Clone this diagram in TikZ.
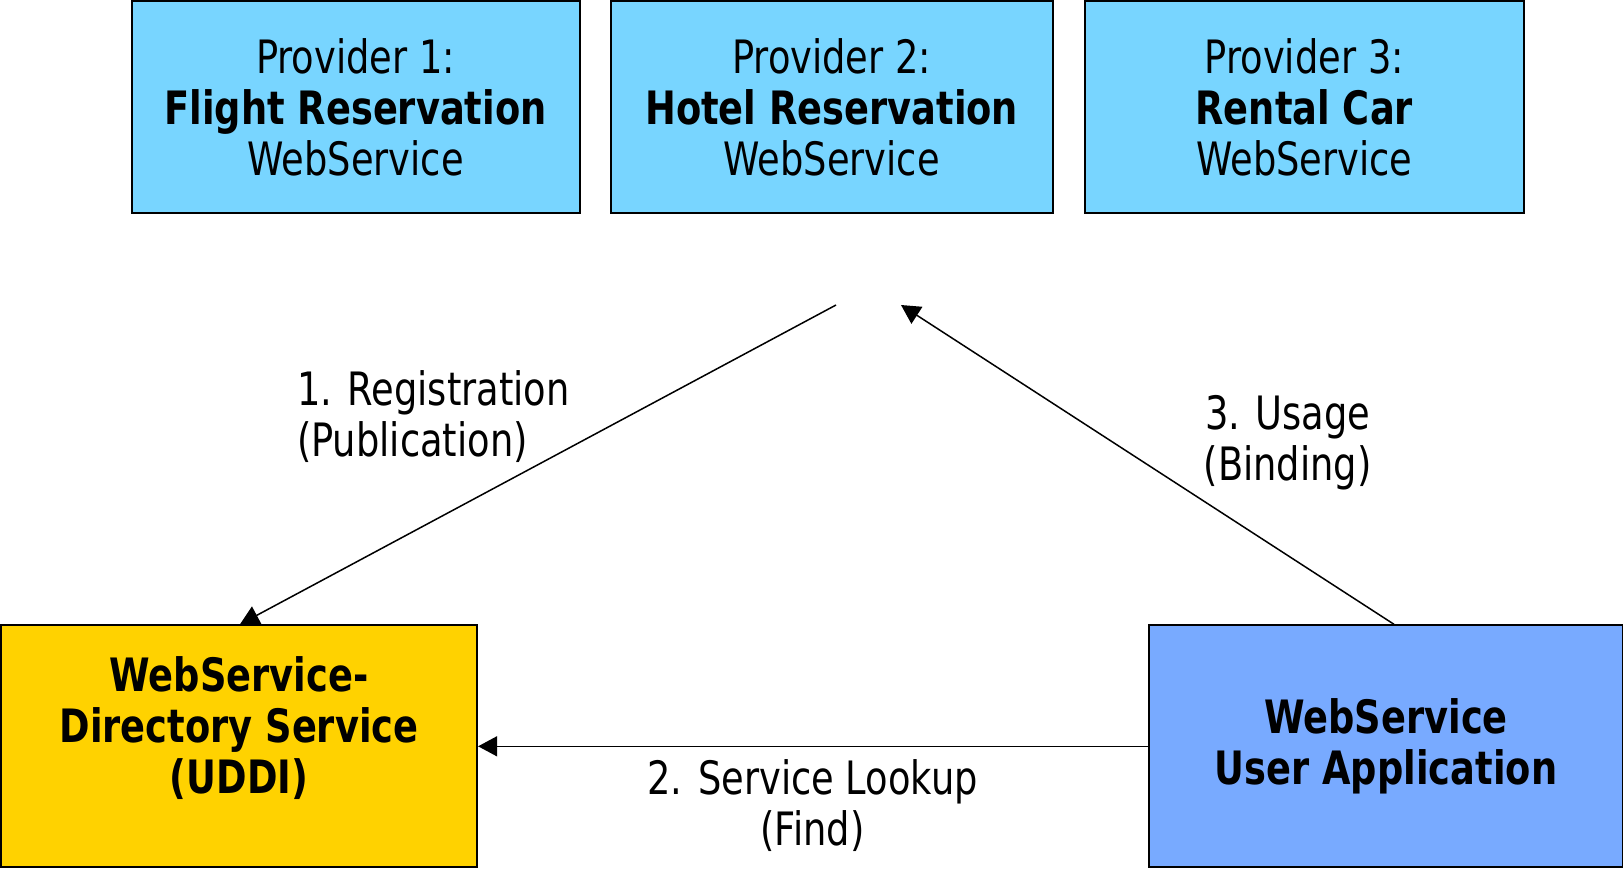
\documentclass[tikz,border=0pt]{standalone}
\usepackage{fontspec}
\setmainfont{DejaVu Sans}[FakeStretch=0.8]
\usepackage{tikz}
\usetikzlibrary{arrows.meta}
\definecolor{provblue}{HTML}{78D5FF}
\definecolor{uddigold}{HTML}{FFD200}
\definecolor{userblue}{HTML}{78AAFF}
\tikzset{box/.style={draw=black,line width=1pt,inner sep=0pt,align=center,
  font=\fontsize{23}{25.5}\selectfont}}
\tikzset{flow/.style={line width=0.75pt,-{Triangle[length=9.5pt,width=10pt]}}}
\tikzset{lbl/.style={font=\fontsize{23}{25.5}\selectfont}}

\begin{document}
\begin{tikzpicture}[x=0.5pt,y=-0.5pt]
\useasboundingbox (0,0) rectangle (1623,869);
\node[box,fill=provblue,minimum width=224pt,minimum height=106pt] (prov1) at (355.6,107) {Provider 1:\\\textbf{Flight Reservation}\\WebService};
\node[box,fill=provblue,minimum width=221pt,minimum height=106pt] (prov2) at (831.7,107) {Provider 2:\\\textbf{Hotel Reservation}\\WebService};
\node[box,fill=provblue,minimum width=219.5pt,minimum height=106pt] (prov3) at (1304.3,107) {Provider 3:\\\textbf{Rental Car}\\WebService};
% text sits a little high in this box
\node[box,fill=uddigold,minimum width=238pt,minimum height=121pt] (uddi) at (239.1,746.3) {\textbf{WebService-}\\\textbf{Directory Service}\\\textbf{(UDDI)}\\[-4pt]\mbox{}};
\node[box,fill=userblue,minimum width=237pt,minimum height=121pt] (userapp) at (1386,746.3) {\textbf{WebService}\\\textbf{User Application}};
% free ends below the providers
\coordinate (regstart) at (836,305);
\coordinate (usetip) at (901,305);
\draw[flow] (regstart) -- (uddi.north west -| 240,0);
\draw[flow] (userapp.north west -| 1394,0) -- (usetip);
\draw[flow] (userapp.west) -- (uddi.east);
\node[lbl,anchor=west,align=left] (reglbl) at (290,417) {1. Registration\\(Publication)};
\node[lbl,align=center] (uselbl) at (1287.7,442.5) {3. Usage\\(Binding)};
\node[lbl,align=center] (findlbl) at (812.6,806) {2. Service Lookup\\(Find)};
\end{tikzpicture}
\end{document}
